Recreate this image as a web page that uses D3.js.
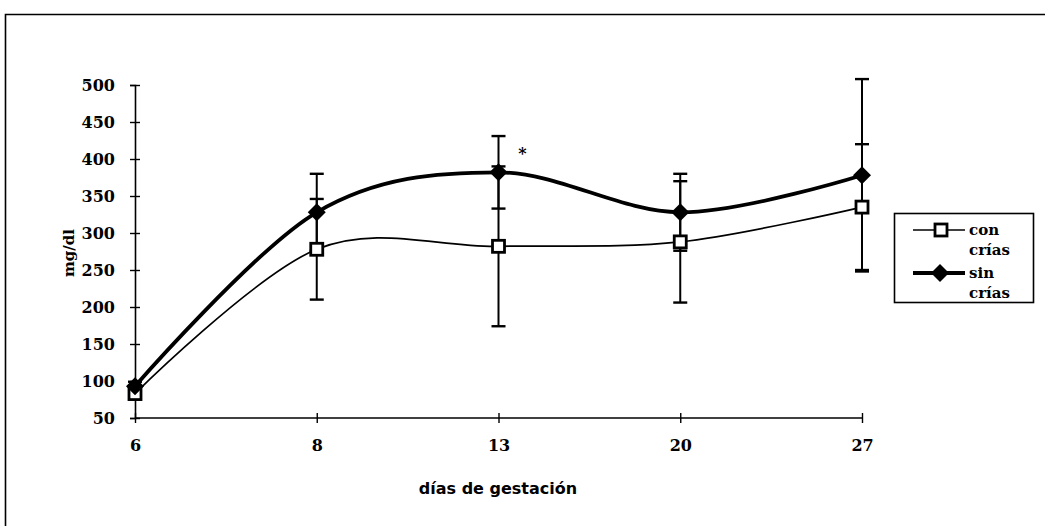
<!DOCTYPE html>
<html><head><meta charset="utf-8">
<script src="https://cdn.jsdelivr.net/npm/d3@7"></script>
<style>body{margin:0;background:#fff}svg{display:block}</style>
</head><body>
<svg id="c" width="1045" height="526"></svg>
<script>
const categories = ["6", "8", "13", "20", "27"];
const conCrias = [83, 278, 282, 288, 335];
const conCriasErr = [6, 68, 108, 82, 85];
const sinCrias = [93, 328, 382, 328, 378];
const sinCriasErr = [6, 52, 49, 52, 130];
const yTicks = [50, 100, 150, 200, 250, 300, 350, 400, 450, 500];
const seriesNames = [["con", "crías"], ["sin", "crías"]];
const yLabel = "mg/dl";
const xLabel = "días de gestación";

const svg = d3.select("#c");
const serif = "'DejaVu Serif', serif";
const sans = "'DejaVu Sans', sans-serif";

// outer frame
svg.append("path").attr("d", "M5.5,526V14.5H1045").attr("fill", "none")
  .attr("stroke", "#000").attr("stroke-width", 1.6);

const x = d3.scalePoint().domain(categories).range([135, 862]).padding(0);
const y = d3.scaleLinear().domain([50, 500]).range([418, 85]);

// y axis
const ya = svg.append("g").attr("transform", "translate(135,0)")
  .call(d3.axisLeft(y).tickValues(yTicks).tickSize(5).tickPadding(15));
ya.select(".domain").attr("stroke-width", 1.6);
ya.selectAll(".tick line").attr("x1", 5).attr("stroke-width", 1.4);
ya.selectAll(".tick text").attr("font-family", serif).attr("font-weight", "bold")
  .attr("font-size", 16).attr("fill", "#000");

// x axis
const xa = svg.append("g").attr("transform", "translate(0,418)")
  .call(d3.axisBottom(x).tickSize(5).tickPadding(17));
xa.select(".domain").attr("stroke-width", 1.6).attr("d", `M${x("6")},0H${x("27")}`);
xa.selectAll(".tick line").attr("y1", -5).attr("stroke-width", 1.4);
xa.selectAll(".tick text").attr("font-family", serif).attr("font-weight", "bold")
  .attr("font-size", 16).attr("fill", "#000");

// axis titles
svg.append("text").attr("transform", "translate(74,253) rotate(-90)")
  .attr("text-anchor", "middle").attr("font-family", serif).attr("font-weight", "bold")
  .attr("font-size", 15).text(yLabel);
svg.append("text").attr("x", 498).attr("y", 494).attr("text-anchor", "middle")
  .attr("font-family", sans).attr("font-weight", "bold").attr("font-size", 16)
  .text(xLabel);

const plot = svg.append("g");

function errorBars(vals, errs) {
  const g = plot.append("g").attr("stroke", "#000");
  categories.forEach((c, i) => {
    const cx = x(c), top = y(vals[i] + errs[i]), bot = y(vals[i] - errs[i]);
    g.append("line").attr("x1", cx).attr("x2", cx).attr("y1", top).attr("y2", bot).attr("stroke-width", 2);
    g.append("line").attr("x1", cx - 7).attr("x2", cx + 7).attr("y1", top).attr("y2", top).attr("stroke-width", 2.4);
    g.append("line").attr("x1", cx - 7).attr("x2", cx + 7).attr("y1", bot).attr("y2", bot).attr("stroke-width", 2.4);
  });
}
errorBars(conCrias, conCriasErr);
errorBars(sinCrias, sinCriasErr);

const line = d3.line().x((d, i) => x(categories[i])).y(d => y(d)).curve(d3.curveCardinal.tension(0));
plot.append("path").datum(conCrias).attr("d", line).attr("fill", "none")
  .attr("stroke", "#000").attr("stroke-width", 1.7);
plot.append("path").datum(sinCrias).attr("d", line).attr("fill", "none")
  .attr("stroke", "#000").attr("stroke-width", 3.8);

function square(g, cx, cy) {
  g.append("rect").attr("x", cx - 6).attr("y", cy - 6).attr("width", 12).attr("height", 12)
    .attr("fill", "#fff").attr("stroke", "#000").attr("stroke-width", 2.8);
}
function diamond(g, cx, cy) {
  g.append("path").attr("d", `M${cx},${cy - 9}L${cx + 9},${cy}L${cx},${cy + 9}L${cx - 9},${cy}Z`)
    .attr("fill", "#000");
}
conCrias.forEach((v, i) => square(plot, x(categories[i]), y(v)));
sinCrias.forEach((v, i) => diamond(plot, x(categories[i]), y(v)));

// significance mark
svg.append("text").attr("x", x("13") + 24).attr("y", y(382) - 13).attr("text-anchor", "middle")
  .attr("font-family", serif).attr("font-weight", "bold").attr("font-size", 16).text("*");

// legend
const lg = svg.append("g");
lg.append("rect").attr("x", 894.5).attr("y", 213.5).attr("width", 139).attr("height", 89)
  .attr("fill", "#fff").attr("stroke", "#000").attr("stroke-width", 1.6);
const rows = [230, 273];
seriesNames.forEach((nm, i) => {
  const ry = rows[i];
  lg.append("line").attr("x1", 913).attr("x2", 965).attr("y1", ry).attr("y2", ry)
    .attr("stroke", "#000").attr("stroke-width", i === 0 ? 1.7 : 3.8);
  if (i === 0) square(lg, 941, ry); else diamond(lg, 940, ry);
  lg.append("text").attr("x", 969).attr("y", ry + 5).attr("font-family", serif)
    .attr("font-weight", "bold").attr("font-size", 15).text(nm[0]);
  lg.append("text").attr("x", 969).attr("y", ry + 25).attr("font-family", serif)
    .attr("font-weight", "bold").attr("font-size", 15).text(nm[1]);
});
</script>
</body></html>
